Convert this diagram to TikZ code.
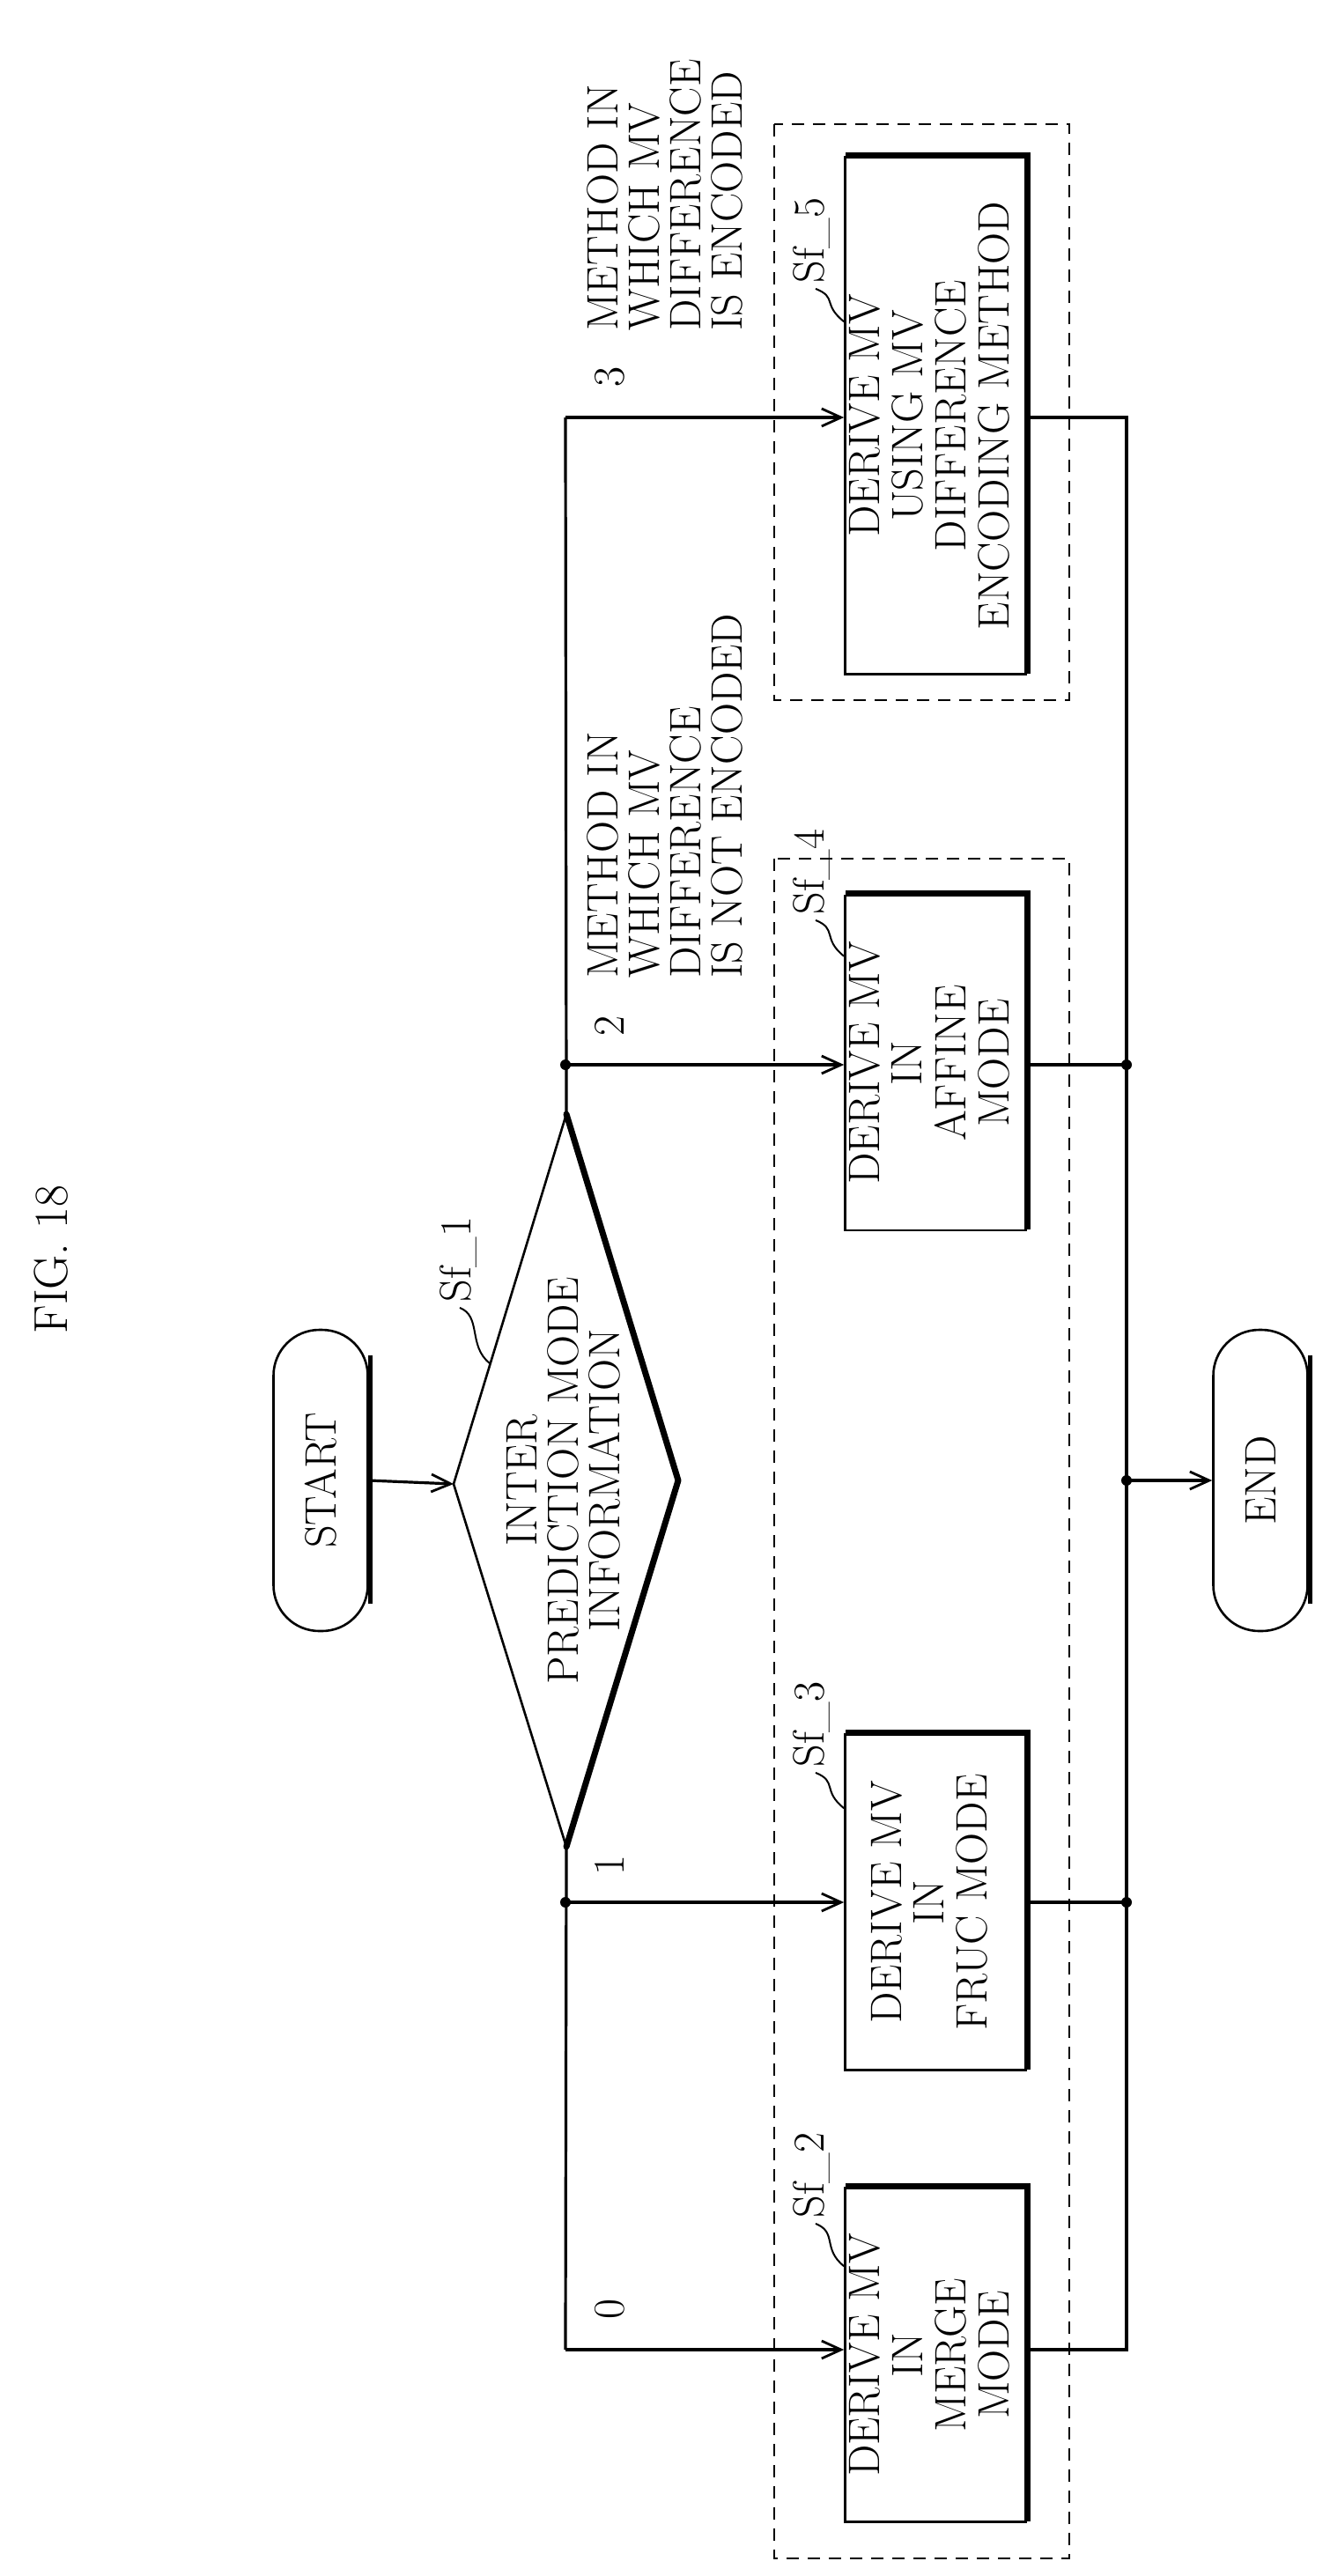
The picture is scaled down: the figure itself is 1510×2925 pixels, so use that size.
\documentclass[tikz,border=0pt]{standalone}
\usetikzlibrary{arrows.meta,calc}
\begin{document}
\begin{tikzpicture}[x=0.5pt,y=-0.5pt,
  txt/.style={font=\fontsize{25}{23.5}\selectfont},
  rtxt/.style={txt,rotate=90,inner sep=0pt},
  ln/.style={line width=1.6pt},
  arr/.style={ln,-{Straight Barb[length=11pt,width=10pt,line width=1.4pt]}},
  procbox/.style={draw,line width=1.3pt,minimum width=102.5pt,inner sep=0pt,fill=white},
  term/.style={draw,line width=1.3pt,rounded corners=26pt,minimum width=53.5pt,minimum height=171pt,inner sep=0pt},
  dbox/.style={line width=1.3pt,dash pattern=on 7pt off 5pt},
  dot/.style={circle,fill=black,inner sep=0pt,minimum size=6pt}]
\useasboundingbox (0,0) rectangle (1510,2925);
\fill[white] (0,0) rectangle (1510,2925);

\node[rtxt,font=\fontsize{27}{27}\selectfont] (fig) at (58,1430) {FIG. 18};

% dashed groups
\draw[dbox] (879,975) rectangle (1214,2905);
\draw[dbox] (879,141) rectangle (1214,795);

% terminals
\node[term] (start) at (364,1681) {\rotatebox{90}{\fontsize{25}{23.5}\selectfont START}};
\node[term] (end) at (1431,1681) {\rotatebox{90}{\fontsize{25}{23.5}\selectfont END}};
\draw[line width=2.5pt] ([xshift=1pt]start.north east) ++(0,30) -- ++(0,282);
\draw[line width=2.5pt] ([xshift=1pt]end.north east) ++(0,30) -- ++(0,282);

% decision
\coordinate (dl) at (515,1685);
\coordinate (dt) at (643,1265);
\coordinate (dr) at (770,1681);
\coordinate (db) at (643,2097);
\draw[line width=1.3pt,line join=round] (dr) -- (dt) -- (dl) -- (db) -- (dr);
\draw[line width=3.5pt,line join=round,line cap=round] (dt) -- (dr) -- (db);
\node[rtxt,align=center] (dec) at (640,1681) {INTER\\PREDICTION MODE\\INFORMATION};

% process boxes
\node[procbox,minimum height=189.5pt] (b2) at (1062,2674) {\rotatebox{90}{\fontsize{25}{23.5}\selectfont\begin{tabular}{@{}c@{}}DERIVE MV\\IN\\MERGE\\MODE\end{tabular}}};
\node[procbox,minimum height=190.5pt] (b3) at (1062,2160) {\rotatebox{90}{\fontsize{25}{23.5}\selectfont\begin{tabular}{@{}c@{}}DERIVE MV\\IN\\FRUC MODE\end{tabular}}};
\node[procbox,minimum height=190pt] (b4) at (1062,1207) {\rotatebox{90}{\fontsize{25}{23.5}\selectfont\begin{tabular}{@{}c@{}}DERIVE MV\\IN\\AFFINE\\MODE\end{tabular}}};
\node[procbox,minimum height=293.5pt] (b5) at (1062,472) {\rotatebox{90}{\fontsize{25}{23.5}\selectfont\begin{tabular}{@{}c@{}}DERIVE MV\\USING MV\\DIFFERENCE\\ENCODING METHOD\end{tabular}}};
\foreach \b in {b2,b3,b4,b5}{
  \draw[line width=2.6pt] ($(\b.north west)+(2,-2)$) -- ($(\b.north east)+(2,-2)$) -- ($(\b.south east)+(2,-2)$);
}

% step labels
\node[rtxt] (s1) at (520,1430) {Sf\_1};
\node[rtxt] (s2) at (921,2470) {Sf\_2};
\node[rtxt] (s3) at (921,1958) {Sf\_3};
\node[rtxt] (s4) at (921,990) {Sf\_4};
\node[rtxt] (s5) at (921,273) {Sf\_5};
\draw[line width=1pt] (s1.west) ++(2,6) .. controls +(25,10) and +(-25,-20) .. (556,1548);
\draw[line width=1pt] (s2.west) ++(5,6) .. controls +(25,10) and +(-25,-20) .. ($(b2.north west)+(0,90)$);
\draw[line width=1pt] (s3.west) ++(5,6) .. controls +(25,10) and +(-25,-20) .. ($(b3.north west)+(0,85)$);
\draw[line width=1pt] (s4.west) ++(5,6) .. controls +(25,10) and +(-25,-20) .. ($(b4.north west)+(0,70)$);
\draw[line width=1pt] (s5.west) ++(5,6) .. controls +(25,10) and +(-25,-20) .. ($(b5.north west)+(0,188)$);

% connectors
\draw[arr] (start.east) -- (dl);
\coordinate (m3) at (642,474);
\coordinate (m2) at (642,1209);
\coordinate (m1) at (642,2160);
\coordinate (m0) at (642,2668);
\draw[ln] (dt) -- (m3);
\draw[ln] (db) -- (m0);
\draw[arr] (m3) -- (b5.west |- m3);
\draw[arr] (m2) -- (b4.west |- m2);
\draw[arr] (m1) -- (b3.west |- m1);
\draw[arr] (m0) -- (b2.west |- m0);
\coordinate (r3) at (1279,474);
\coordinate (r2) at (1279,1209);
\coordinate (re) at (1279,1681);
\coordinate (r1) at (1279,2160);
\coordinate (r0) at (1279,2668);
\draw[ln] (b5.east |- r3) -- (r3) -- (r0) -- (b2.east |- r0);
\draw[ln] (b4.east |- r2) -- (r2);
\draw[ln] (b3.east |- r1) -- (r1);
\draw[arr] (re) -- (end.west |- re);
\foreach \p in {m2,m1,r2,re,r1} \node[dot] at (\p) {};

% branch labels
\node[rtxt] (l0) at (692,2622) {0};
\node[rtxt] (l1) at (692,2118) {1};
\node[rtxt] (l2) at (692,1165) {2};
\node[rtxt] (l3) at (692,428) {3};
\node[rtxt,align=left,anchor=north west] (n2) at (666,1111) {METHOD IN\\WHICH MV\\DIFFERENCE\\IS NOT ENCODED};
\node[rtxt,align=left,anchor=north west] (n3) at (666,376) {METHOD IN\\WHICH MV\\DIFFERENCE\\IS ENCODED};
\end{tikzpicture}
\end{document}
